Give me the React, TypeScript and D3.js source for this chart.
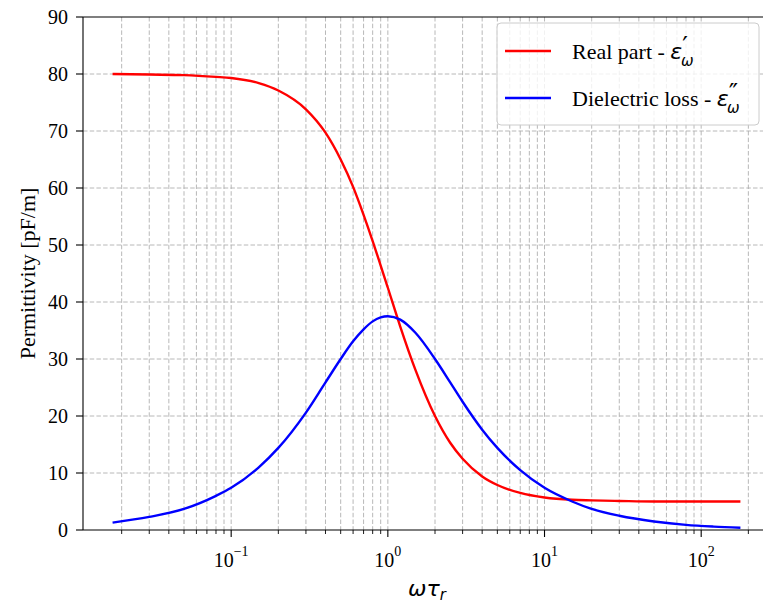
import React from "react";
import { scaleLog, scaleLinear, line, curveMonotoneX } from "d3";

// values
const omegaTau = [
  0.0175, 0.03, 0.05, 0.08, 0.1, 0.15, 0.2, 0.3, 0.4, 0.5, 0.6, 0.7, 0.8, 0.9,
  1, 1.2, 1.5, 2, 2.5, 3, 4, 5, 7, 10, 15, 20, 30, 50, 80, 120, 178,
];
const realPart = [
  80.0, 79.9, 79.8, 79.5, 79.3, 78.4, 77.1, 73.8, 69.7, 65.0, 60.2, 55.3, 50.7,
  46.4, 42.5, 35.7, 28.1, 20.0, 15.3, 12.5, 9.4, 7.9, 6.5, 5.7, 5.3, 5.2, 5.1,
  5.0, 5.0, 5.0, 5.0,
];
const dielectricLoss = [
  1.3, 2.3, 3.7, 6.0, 7.4, 11.0, 14.4, 20.6, 25.9, 30.0, 33.1, 35.2, 36.6, 37.3,
  37.5, 36.9, 34.6, 30.0, 25.9, 22.5, 17.6, 14.4, 10.5, 7.4, 5.0, 3.7, 2.5, 1.5,
  0.9, 0.6, 0.4,
];
const yTicks = [0, 10, 20, 30, 40, 50, 60, 70, 80, 90];
const xMajor = [0.1, 1, 10, 100];
const xMajorExp = ["\u22121", "0", "1", "2"];

const width = 763;
const height = 605;
const left = 83;
const top = 17;
const bottom = 530;
const right = 771;

const serif = "'Liberation Serif', 'Times New Roman', serif";
const mathFont = "'DejaVu Sans', sans-serif";

const x = scaleLog().domain([0.01133, 279]).range([left, right]);
const y = scaleLinear().domain([0, 90]).range([bottom, top]);

const xMinor: number[] = [];
[0.01, 0.1, 1, 10, 100].forEach((d) => {
  for (let k = 2; k <= 9; k++) {
    const v = d * k;
    if (v > x.domain()[0] && v < x.domain()[1]) xMinor.push(v);
  }
});

const path = line<number>()
  .x((d, i) => x(omegaTau[i]))
  .y((d) => y(d))
  .curve(curveMonotoneX);

const gridStyle = { stroke: "#b0b0b0", strokeWidth: 0.9, strokeDasharray: "4.5,2.2" };

function App() {
  return (
    <svg
      width={width}
      height={height}
      style={{ position: "absolute", left: 0, top: 0, background: "#fff" }}
    >
      {/* grid */}
      {[...xMinor, ...xMajor].map((v, i) => (
        <line key={`gx${i}`} x1={x(v)} x2={x(v)} y1={top} y2={bottom} {...gridStyle} />
      ))}
      {yTicks.slice(1, -1).map((v) => (
        <line key={`gy${v}`} x1={left} x2={right} y1={y(v)} y2={y(v)} {...gridStyle} />
      ))}

      {/* curves */}
      <path d={path(realPart) || ""} fill="none" stroke="#ff0000" strokeWidth={2.4} />
      <path d={path(dielectricLoss) || ""} fill="none" stroke="#0000ff" strokeWidth={2.4} />

      {/* spines */}
      <line x1={left} x2={left} y1={top} y2={bottom} stroke="#000" strokeWidth={1.1} />
      <line x1={left} x2={right} y1={bottom} y2={bottom} stroke="#000" strokeWidth={1.1} />
      <line x1={left} x2={right} y1={top} y2={top} stroke="#000" strokeWidth={1.1} />
      <line x1={right} x2={right} y1={top} y2={bottom} stroke="#000" strokeWidth={1.1} />

      {/* y ticks */}
      {yTicks.map((v) => (
        <g key={`yt${v}`}>
          <line x1={left - 7} x2={left} y1={y(v)} y2={y(v)} stroke="#000" strokeWidth={1.1} />
          <text x={left - 15} y={y(v)} dy="0.35em" textAnchor="end" fontFamily={serif} fontSize={20} fill="#000">
            {v}
          </text>
        </g>
      ))}

      {/* x ticks */}
      {xMinor.map((v, i) => (
        <line key={`xm${i}`} x1={x(v)} x2={x(v)} y1={bottom} y2={bottom + 4} stroke="#000" strokeWidth={0.9} />
      ))}
      {xMajor.map((v, i) => (
        <g key={`xt${v}`}>
          <line x1={x(v)} x2={x(v)} y1={bottom} y2={bottom + 7} stroke="#000" strokeWidth={1.1} />
          <text x={x(v)} y={567} textAnchor="middle" fontFamily={serif} fontSize={20} fill="#000">
            10
            <tspan fontSize={14} dy={-11}>
              {xMajorExp[i]}
            </tspan>
          </text>
        </g>
      ))}

      {/* axis labels */}
      <text x={(left + right) / 2} y={596} textAnchor="middle" fontFamily={mathFont} fontStyle="italic" fontSize={22} fill="#000">
        ωτ
        <tspan fontSize={15} dy={4}>
          r
        </tspan>
      </text>
      <text
        transform={`translate(35,${(top + bottom) / 2}) rotate(-90)`}
        textAnchor="middle"
        fontFamily={serif}
        fontSize={22}
        fill="#000"
      >
        Permittivity [pF/m]
      </text>

      {/* legend */}
      <g>
        <rect x={497} y={23} width={262} height={102} rx={4} fill="#fff" fillOpacity={0.8} stroke="#cccccc" strokeWidth={1} />
        <line x1={505} x2={551} y1={51} y2={51} stroke="#ff0000" strokeWidth={2.4} />
        <text x={572} y={59} fontFamily={serif} fontSize={22} fill="#000">
          Real part -{" "}
          <tspan fontFamily={mathFont} fontStyle="italic">ε</tspan>
          <tspan fontFamily={mathFont} fontSize={25} dx={0} dy={-5}>′</tspan>
          <tspan fontFamily={mathFont} fontStyle="italic" fontSize={15} dx={-7} dy={12}>ω</tspan>
        </text>
        <line x1={505} x2={551} y1={98} y2={98} stroke="#0000ff" strokeWidth={2.4} />
        <text x={572} y={106} fontFamily={serif} fontSize={22} fill="#000">
          Dielectric loss -{" "}
          <tspan fontFamily={mathFont} fontStyle="italic">ε</tspan>
          <tspan fontFamily={mathFont} fontSize={25} dx={0} dy={-5}>″</tspan>
          <tspan fontFamily={mathFont} fontStyle="italic" fontSize={15} dx={-11} dy={12}>ω</tspan>
        </text>
      </g>
    </svg>
  );
}

export default App;
